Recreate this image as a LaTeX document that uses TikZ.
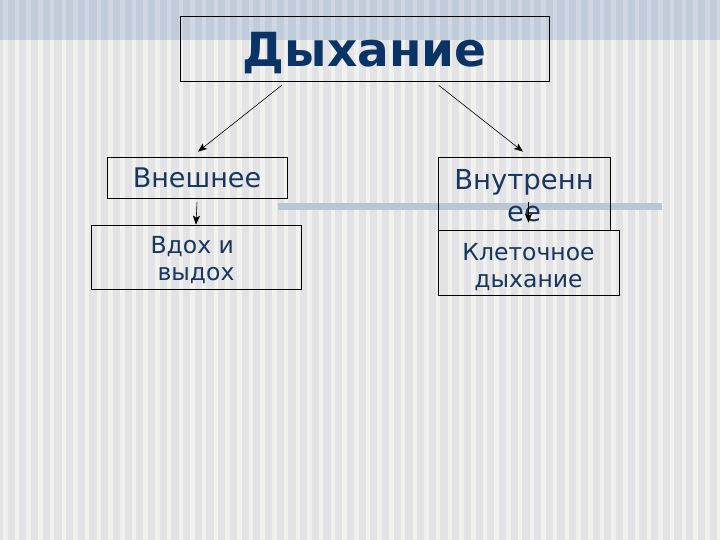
\documentclass[tikz,border=0pt]{standalone}
\usepackage{fontspec}
\setmainfont{DejaVu Sans}
\usetikzlibrary{arrows.meta}
\definecolor{bgc}{HTML}{E3E3E5}
\definecolor{stripec}{HTML}{F1F1EE}
\definecolor{bandc}{HTML}{C0CCD9}
\definecolor{bandstripe}{HTML}{CFD8E2}
\definecolor{barc}{HTML}{B9C6D5}
\definecolor{titlec}{HTML}{0A3366}
\definecolor{txtc}{HTML}{17375E}
\tikzset{
  box/.style={draw=black, line width=0.6pt, inner sep=0pt, align=center, text=txtc},
  conn/.style={draw=black, line width=0.6pt, -{Stealth[length=9pt,width=7pt,inset=2pt]}},
}
\begin{document}
\begin{tikzpicture}[x=1pt,y=-1pt]
\useasboundingbox (0,0) rectangle (720,540);
% background
\fill[bgc] (0,0) rectangle (720,540);
\fill[bandc] (0,0) rectangle (720,40);
\foreach \i in {0,...,61} {
  \fill[stripec] (3+\i*11.7,40) rectangle (7.5+\i*11.7,540);
  \fill[bandstripe] (3+\i*11.7,0) rectangle (7.5+\i*11.7,40);
}
% horizontal bar
\fill[barc] (278,203) rectangle (662,210);
% nodes
\node[box, minimum width=369pt, minimum height=65pt, text=titlec, font=\fontsize{47}{50}\selectfont\bfseries] (title) at (364.5,48.5) {\raisebox{0pt}[37pt][0pt]{Дыхание}};
\node[box, minimum width=180pt, minimum height=41pt, font=\fontsize{27}{30}\selectfont] (outer) at (197,177.5) {Внешнее};
\node[box, minimum width=210pt, minimum height=64pt, font=\fontsize{23.5}{27}\selectfont] (breath) at (196,257) {\rule{0pt}{24pt}Вдох и\phantom{ }\\выдох};
\node[box, minimum width=172pt, minimum height=73pt, font=\fontsize{27.5}{32}\selectfont] (inner) at (524,193.5) {\rule{0pt}{25pt}Внутренн\\ее};
\node[box, minimum width=181pt, minimum height=65pt, font=\fontsize{23.5}{27}\selectfont] (cell) at (528.5,262.5) {\rule{0pt}{26pt}Клеточное\\дыхание};
% connectors
\draw[conn] ([xshift=102pt,yshift=-4pt]title.south west) -- ([xshift=1pt,yshift=5pt]outer.north);
\draw[conn] ([xshift=259pt,yshift=-4pt]title.south west) -- ([xshift=-1pt,yshift=5pt]inner.north);
\draw[conn] ([yshift=-4pt]outer.south) -- ([yshift=0pt]breath.north);
\draw[conn] ([yshift=28pt]cell.north) -- ([yshift=7pt]cell.north);
\end{tikzpicture}
\end{document}
